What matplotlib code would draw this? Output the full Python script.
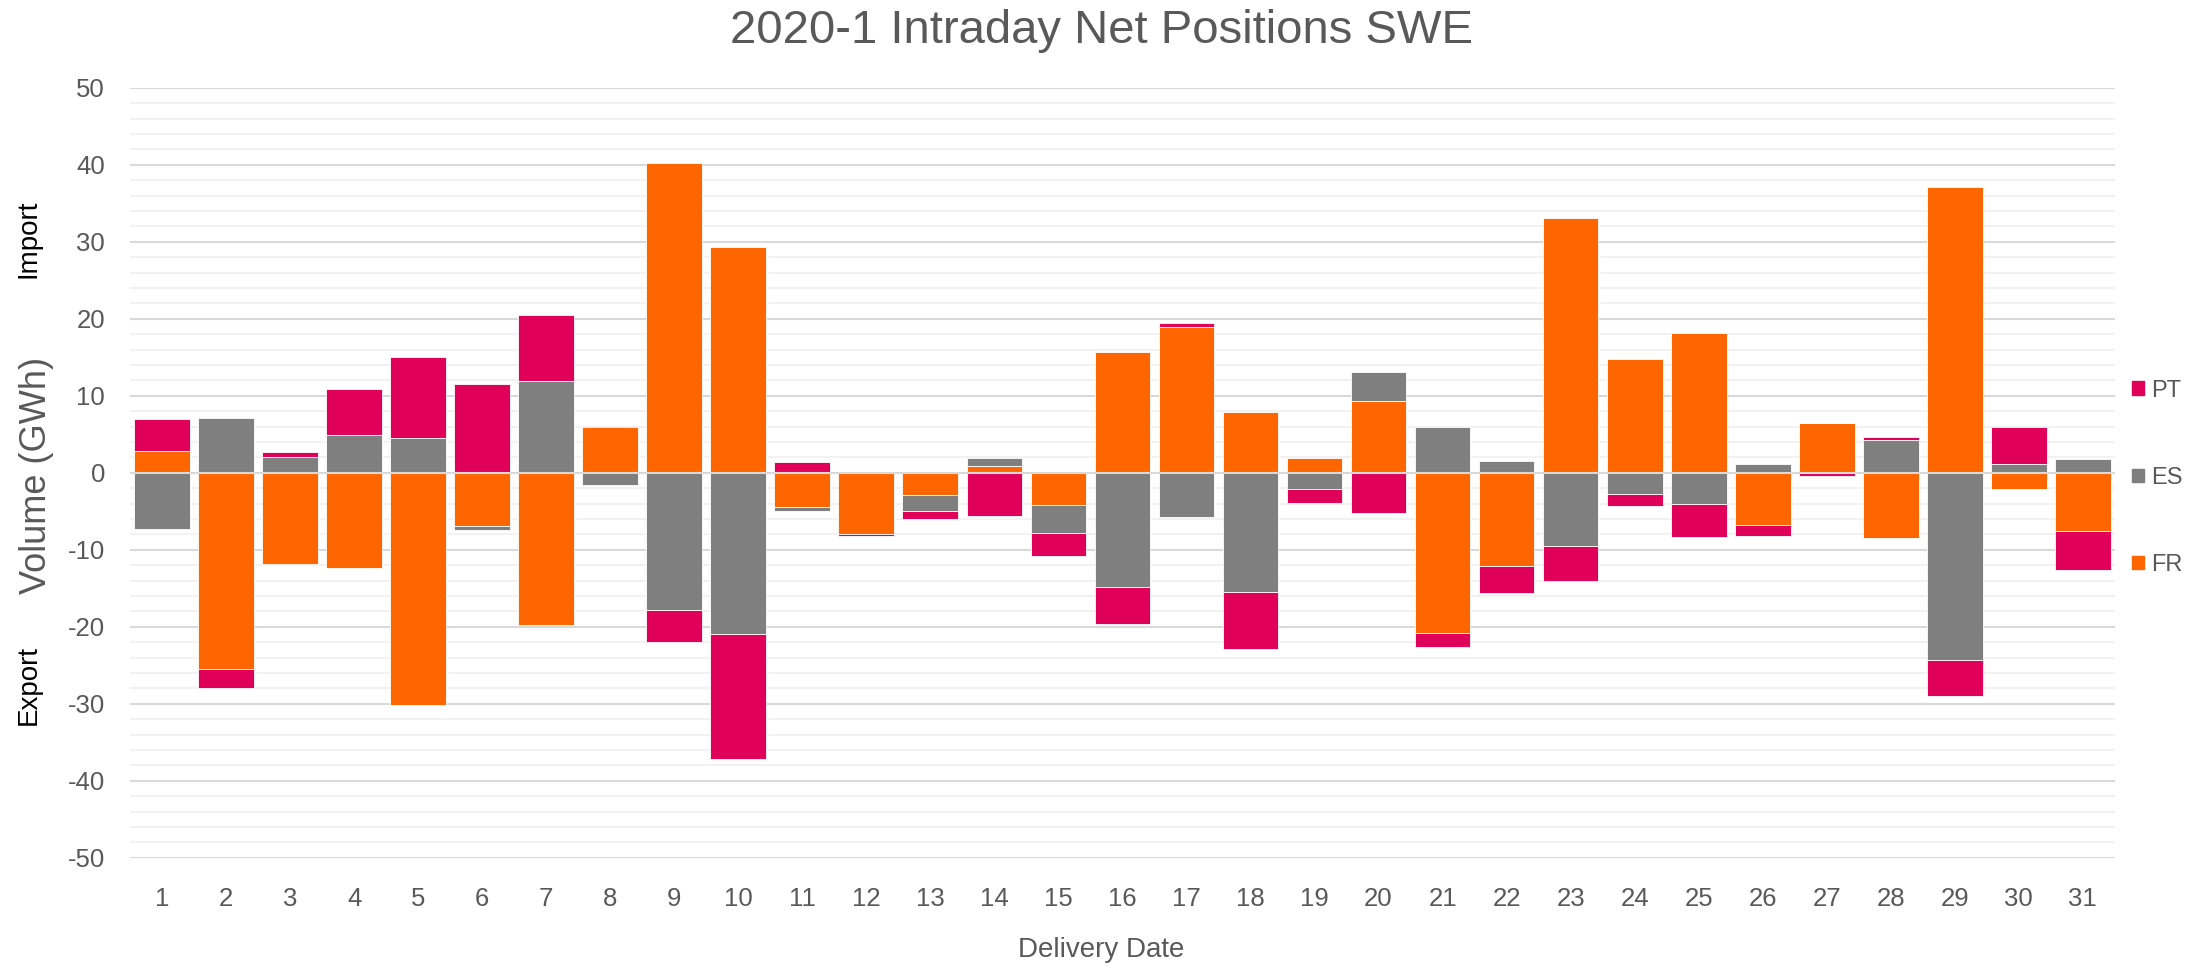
import matplotlib
matplotlib.use('Agg')
import matplotlib.pyplot as plt
import numpy as np
from matplotlib.patches import Patch

plt.rcParams['font.family'] = ['Liberation Sans', 'DejaVu Sans']
plt.rcParams['axes.unicode_minus'] = False

# daily net positions per border (GWh)
days = list(range(1, 32))
fr = [2.85, -25.5, -11.9, -12.3, -30.2, -6.92, -19.8, 5.9, 40.26, 29.33,
      -4.48, -8.0, -2.92, 0.95, -4.2, 15.75, 18.94, 7.94, 1.9, 9.3,
      -20.77, -12.08, 33.06, 14.73, 18.19, -6.79, 6.52, -8.49, 37.14, -2.04, -7.6]
es = [-7.26, 7.13, 2.1, 4.89, 4.48, -0.48, 11.95, -1.63, -17.85, -20.98,
      -0.41, 0.1, -2.04, 0.95, -3.67, -14.87, -5.77, -15.41, -2.04, 3.8,
      5.9, 1.56, -9.44, -2.78, -4.0, 1.15, 0.0, 4.28, -24.3, 1.09, 1.77]
pt = [4.2, -2.45, 0.6, 5.97, 10.5, 11.54, 8.6, 0.2, -4.15, -16.2,
      1.36, -0.15, -1.08, -5.63, -2.92, -4.82, 0.54, -7.4, -1.83, -5.16,
      -1.9, -3.47, -4.54, -1.5, -4.35, -1.36, -0.41, 0.4, -4.68, 4.81, -4.96]

series = [('FR', fr, '#FF6600'), ('ES', es, '#7F7F7F'), ('PT', pt, '#E0005A')]
text_grey = '#595959'

fig = plt.figure(figsize=(22.03, 9.65), dpi=100)
ax = fig.add_axes([0.059, 0.111, 0.901, 0.798])

# stack positives upward and negatives downward, like Excel does
pos_base = np.zeros(len(days))
neg_base = np.zeros(len(days))
for name, vals, col in series:
    v = np.array(vals)
    bottom = np.where(v >= 0, pos_base, neg_base)
    ax.bar(days, v, bottom=bottom, width=0.87, color=col,
           edgecolor='white', linewidth=0.6, zorder=3)
    pos_base += np.clip(v, 0, None)
    neg_base += np.clip(v, None, 0)

ax.set_xlim(0.5, 31.5)
ax.set_ylim(-50, 50)
ax.set_yticks(range(-50, 51, 10))
ax.set_yticks(range(-50, 51, 2), minor=True)
ax.set_xticks(days)
ax.grid(axis='y', which='major', color='#D9D9D9', linewidth=1.5, zorder=0)
ax.grid(axis='y', which='minor', color='#F2F2F2', linewidth=1.5, zorder=0)
ax.axhline(0, color='#D9D9D9', linewidth=1.5, zorder=4)
for s in ax.spines.values():
    s.set_visible(False)
ax.tick_params(axis='both', which='both', length=0, labelsize=18.5,
               labelcolor=text_grey)
ax.tick_params(axis='x', pad=21)
ax.tick_params(axis='y', pad=18)

fig.text(0.5, 0.968, '2020-1 Intraday Net Positions SWE', ha='center',
         va='center', fontsize=34, color=text_grey)
fig.text(0.5, 0.016, 'Delivery Date', ha='center', va='center',
         fontsize=20, color=text_grey)
fig.text(0.0165, 0.507, 'Volume (GWh)', rotation=90, ha='center',
         va='center', fontsize=26, color=text_grey)
fig.text(0.013, 0.753, 'Import', rotation=90, ha='center', va='center',
         fontsize=20, color='black')
fig.text(0.013, 0.290, 'Export', rotation=90, ha='center', va='center',
         fontsize=20, color='black')

handles = [Patch(color=col, label=name) for name, vals, col in series[::-1]]
fig.legend(handles=handles, loc='center left', bbox_to_anchor=(0.9635, 0.505),
           frameon=False, fontsize=17, labelcolor=text_grey,
           handlelength=0.5, handleheight=0.5, handletextpad=0.3,
           labelspacing=2.76, borderaxespad=0)

fig.savefig('out.png', dpi=100)
